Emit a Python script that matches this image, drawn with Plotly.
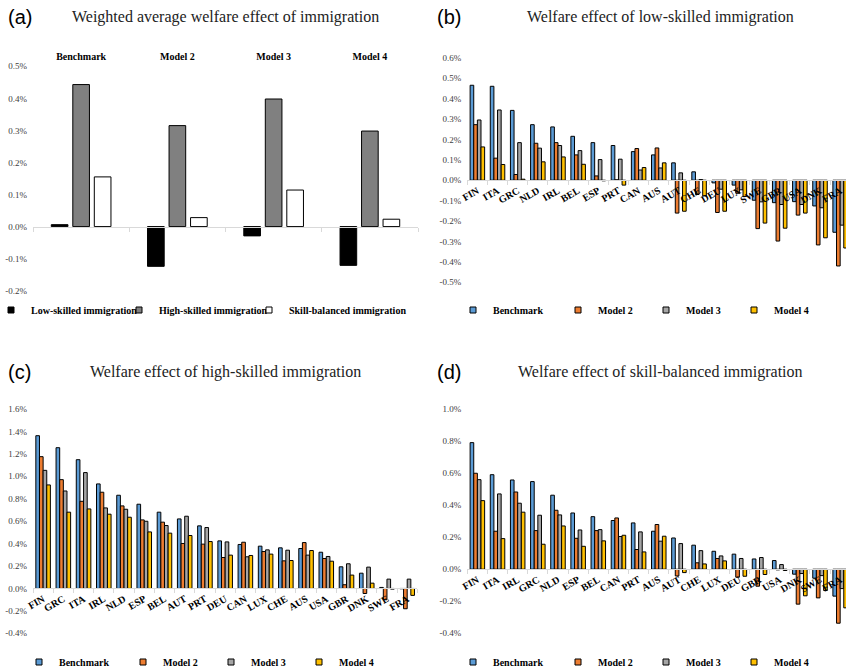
import plotly.graph_objects as go

# ---------------- data ----------------
# Panel (a): weighted average welfare effect (%)
models = ["Benchmark", "Model 2", "Model 3", "Model 4"]
avg_low = [0.006, -0.124, -0.029, -0.121]
avg_high = [0.443, 0.315, 0.398, 0.298]
avg_balanced = [0.155, 0.028, 0.114, 0.023]

# Panel (b): low-skilled immigration (%)
low_countries = ["FIN", "ITA", "GRC", "NLD", "IRL", "BEL", "ESP", "PRT", "CAN", "AUS",
                 "AUT", "CHE", "DEU", "LUX", "SWE", "GBR", "USA", "DNK", "FRA"]
low_bench = [0.465, 0.460, 0.342, 0.272, 0.261, 0.215, 0.184, 0.170, 0.140, 0.124,
             0.085, 0.041, -0.013, -0.024, -0.098, -0.110, -0.105, -0.126, -0.255]
low_m2 = [0.272, 0.108, 0.028, 0.181, 0.184, 0.124, 0.021, 0.002, 0.155, 0.158,
          -0.161, -0.070, -0.158, -0.064, -0.237, -0.298, -0.171, -0.317, -0.420]
low_m3 = [0.295, 0.344, 0.184, 0.157, 0.170, 0.145, 0.101, 0.103, 0.050, 0.060,
          0.036, 0.003, -0.044, -0.047, -0.106, -0.119, -0.119, -0.135, -0.220]
low_m4 = [0.163, 0.077, 0.005, 0.090, 0.114, 0.078, -0.003, -0.024, 0.062, 0.085,
          -0.152, -0.077, -0.152, -0.080, -0.210, -0.235, -0.161, -0.282, -0.332]

# Panel (c): high-skilled immigration (%)
high_countries = ["FIN", "GRC", "ITA", "IRL", "NLD", "ESP", "BEL", "AUT", "PRT", "DEU",
                  "CAN", "LUX", "CHE", "AUS", "USA", "GBR", "DNK", "SWE", "FRA"]
high_bench = [1.362, 1.255, 1.148, 0.932, 0.831, 0.751, 0.680, 0.620, 0.558, 0.424,
              0.392, 0.377, 0.362, 0.356, 0.323, 0.193, 0.136, 0.009, -0.003]
high_m2 = [1.175, 0.970, 0.777, 0.858, 0.736, 0.611, 0.591, 0.401, 0.395, 0.276,
           0.412, 0.329, 0.246, 0.409, 0.267, 0.033, -0.045, -0.101, -0.181]
high_m3 = [1.053, 0.869, 1.033, 0.718, 0.706, 0.599, 0.561, 0.644, 0.543, 0.415,
           0.282, 0.344, 0.341, 0.297, 0.285, 0.220, 0.190, 0.083, 0.083]
high_m4 = [0.923, 0.680, 0.709, 0.662, 0.635, 0.504, 0.493, 0.472, 0.418, 0.297,
           0.294, 0.306, 0.249, 0.338, 0.243, 0.119, 0.047, -0.006, -0.062]

# Panel (d): skill-balanced immigration (%)
bal_countries = ["FIN", "ITA", "IRL", "GRC", "NLD", "ESP", "BEL", "CAN", "PRT", "AUS",
                 "AUT", "CHE", "LUX", "DEU", "GBR", "USA", "DNK", "SWE", "FRA"]
bal_bench = [0.790, 0.590, 0.557, 0.547, 0.462, 0.351, 0.328, 0.304, 0.289, 0.237,
             0.195, 0.150, 0.112, 0.094, 0.064, 0.054, -0.031, -0.056, -0.168]
bal_m2 = [0.599, 0.237, 0.482, 0.241, 0.368, 0.193, 0.241, 0.320, 0.123, 0.279,
          -0.042, 0.040, 0.067, -0.050, -0.106, -0.004, -0.218, -0.179, -0.337]
bal_m3 = [0.559, 0.470, 0.412, 0.337, 0.339, 0.245, 0.247, 0.204, 0.233, 0.175,
          0.160, 0.116, 0.083, 0.067, 0.073, 0.029, -0.027, -0.040, -0.121]
bal_m4 = [0.428, 0.191, 0.356, 0.156, 0.270, 0.143, 0.177, 0.212, 0.108, 0.206,
          -0.021, 0.033, 0.052, -0.044, -0.033, -0.008, -0.166, -0.133, -0.241]

series_names = ["Benchmark", "Model 2", "Model 3", "Model 4"]
series_colors = ["#5b9bd5", "#ed7d31", "#a5a5a5", "#ffc000"]
avg_names = ["Low-skilled immigration", "High-skilled immigration", "Skill-balanced immigration"]
avg_colors = ["#000000", "#808080", "#ffffff"]

# ---------------- layout helpers ----------------
W, H = 846, 670
SERIF = "Liberation Serif"
SANS = "Liberation Sans"


def xd(l, r):
    return [l / W, min(r / W, 1.0)]


def yd(top, bottom):
    return [1 - bottom / H, 1 - top / H]


def zero_pos(dom, rng):
    return dom[0] + (0 - rng[0]) / (rng[1] - rng[0]) * (dom[1] - dom[0])


def ticks(lo, hi, step):
    n = int(round((hi - lo) / step))
    vals = [round(lo + i * step, 3) for i in range(n + 1)]
    return vals, [f"{v:.1f}%" for v in vals]


fig = go.Figure()
legend_layouts = {}
legfont = dict(family=SERIF, size=10, color="#000000", weight="bold")
leg_counter = [0]


def add_legend_item(name, color, xa, ya, text_x, text_y):
    leg_counter[0] += 1
    key = "legend" if leg_counter[0] == 1 else f"legend{leg_counter[0]}"
    fig.add_trace(go.Scatter(x=[None], y=[None], mode="markers", name=name,
                             xaxis=xa, yaxis=ya, legend=key, hoverinfo="skip",
                             marker=dict(symbol="square", size=6, color=color,
                                         line=dict(color="#000000", width=1))))
    legend_layouts[key] = dict(x=(text_x - 38) / W, y=1 - text_y / H, xanchor="left",
                               yanchor="middle", orientation="h", font=legfont,
                               bgcolor="rgba(0,0,0,0)", borderwidth=0,
                               itemsizing="trace", itemclick=False)


# Panel (a)
a_offsets = [-0.31, -0.0865, 0.137]
for vals, name, col, off in zip([avg_low, avg_high, avg_balanced], avg_names, avg_colors, a_offsets):
    fig.add_trace(go.Bar(x=models, y=vals, name=name, xaxis="x", yaxis="y",
                         marker=dict(color=col, line=dict(color="#000000", width=1)),
                         width=0.173, offset=off, showlegend=False))
# helper trace so the zero-line axis (with boundary ticks) of panel (a) is drawn
fig.add_trace(go.Scatter(x=models, y=[0] * len(models), mode="none", xaxis="x5", yaxis="y",
                         showlegend=False, hoverinfo="skip"))
for name, col, tx in zip(avg_names, avg_colors, [29, 157, 287]):
    add_legend_item(name, col, "x5", "y", tx, 310)

panels = [
    ("x2", "y2", low_countries, [low_bench, low_m2, low_m3, low_m4], 310, 423),
    ("x3", "y3", high_countries, [high_bench, high_m2, high_m3, high_m4], 662, 0),
    ("x4", "y4", bal_countries, [bal_bench, bal_m2, bal_m3, bal_m4], 662, 423),
]
for xa, ya, cats, data, ly, dx in panels:
    for vals, name, col in zip(data, series_names, series_colors):
        fig.add_trace(go.Bar(x=cats, y=vals, name=name, xaxis=xa, yaxis=ya,
                             marker=dict(color=col, line=dict(color="#000000", width=1)),
                             showlegend=False))
    lx = [491, 596, 684, 772] if dx else [57, 161, 249, 337]
    for name, col, tx in zip(series_names, series_colors, lx):
        add_legend_item(name, col, xa, ya, tx, ly)

dom = {
    "a": (xd(33, 418), yd(66.3, 290.7), [-0.2, 0.5], 0.1),
    "b": (xd(467.3, 846), yd(57.7, 282.3), [-0.5, 0.6], 0.1),
    "c": (xd(33, 417.3), yd(409, 633.3), [-0.4, 1.6], 0.2),
    "d": (xd(467.3, 846), yd(409, 633.3), [-0.4, 1.0], 0.2),
}

tickfont_y = dict(family=SERIF, size=9, color="#404040")
catfont = dict(family=SERIF, size=10, color="#000000", weight="bold")
axis_line = "#d9d9d9"


def yaxis_cfg(key):
    xdm, ydm, rng, step = dom[key]
    tv, tt = ticks(rng[0], rng[1], step)
    return dict(domain=ydm, range=rng, tickvals=tv, ticktext=tt, showgrid=False,
                zeroline=False, showline=False, ticks="", tickfont=tickfont_y,
                ticklabelstandoff=5, fixedrange=True)


layout = dict(
    width=W, height=H, margin=dict(l=0, r=0, t=0, b=0, pad=0, autoexpand=False),
    paper_bgcolor="white", plot_bgcolor="white",
    barmode="group", bargap=0.28, bargroupgap=0.0,
    font=dict(family=SERIF, color="#000000"),
)

# Panel (a) axes
xa_dom, ya_dom, ya_rng, _ = dom["a"]
layout["xaxis"] = dict(domain=xa_dom, anchor="y", side="top", type="category",
                       categoryarray=models, range=[-0.5, 3.5], showline=False, ticks="",
                       showgrid=False, tickfont=catfont, ticklabelstandoff=3)
layout["xaxis5"] = dict(domain=xa_dom, overlaying="x", anchor="free",
                        position=zero_pos(ya_dom, ya_rng), type="category",
                        categoryarray=models, range=[-0.5, 3.5], showline=True,
                        linecolor=axis_line, linewidth=1, ticks="outside",
                        tickson="boundaries", ticklen=4, tickcolor=axis_line,
                        showticklabels=False, showgrid=False)
layout["yaxis"] = dict(anchor="x", **yaxis_cfg("a"))

# Panels (b)-(d) axes
for key, n, cats, xr in [("b", 2, low_countries, [-0.5, 18.29]),
                         ("c", 3, high_countries, [-0.5, 18.5]),
                         ("d", 4, bal_countries, [-0.5, 18.29])]:
    xdm, ydm, rng, step = dom[key]
    layout[f"xaxis{n}"] = dict(domain=xdm, anchor="free", position=zero_pos(ydm, rng),
                               type="category", categoryarray=cats, range=xr,
                               showline=True, linecolor=axis_line, linewidth=1,
                               ticks="outside", tickson="boundaries", ticklen=4,
                               tickcolor=axis_line, showgrid=False, tickangle=-30,
                               tickfont=catfont)
    layout[f"yaxis{n}"] = dict(anchor=f"x{n}", **yaxis_cfg(key))

layout.update(legend_layouts)

titles = [
    ("(a)", 225, 17, "Weighted average welfare effect of immigration", 6, 17),
    ("(b)", 660, 17, "Welfare effect of low-skilled immigration", 435, 17),
    ("(c)", 225, 372, "Welfare effect of high-skilled immigration", 6, 372),
    ("(d)", 660, 372, "Welfare effect of skill-balanced immigration", 435, 372),
]
ann = []
for lab, tx, ty, text, lx, ly in titles:
    ann.append(dict(text=text, x=tx / W, y=1 - ty / H, xref="paper", yref="paper",
                    xanchor="center", yanchor="middle", showarrow=False,
                    font=dict(family=SERIF, size=16, color="#222222")))
    ann.append(dict(text=lab, x=lx / W, y=1 - ly / H, xref="paper", yref="paper",
                    xanchor="left", yanchor="middle", showarrow=False,
                    font=dict(family=SANS, size=20, color="#000000")))
layout["annotations"] = ann

fig.update_layout(**layout)
fig.write_html("out.html", config={"displayModeBar": False},
               post_script="document.body.style.margin='0';document.body.style.padding='0';")
